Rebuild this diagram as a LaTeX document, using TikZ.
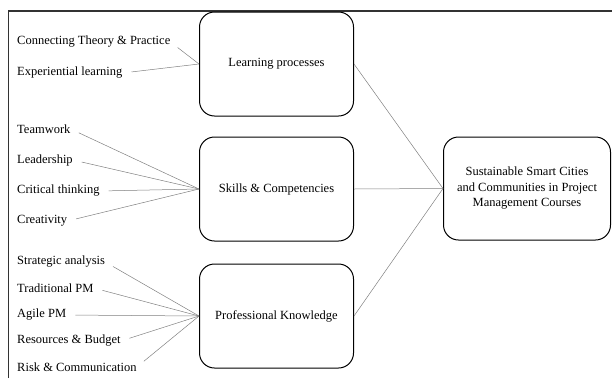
\documentclass[tikz,border=0pt]{standalone}
\usepackage{fontspec}
\setmainfont{Liberation Serif}
\usetikzlibrary{positioning, arrows.meta}
\tikzstyle{process} = [rectangle, rounded corners=15pt, minimum width=154pt, minimum height=104pt, text centered, draw=black, line width=1pt, font=\fontsize{12.5}{15.5}\selectfont]
\tikzstyle{item} = [anchor=west, inner xsep=0pt, font=\fontsize{12.5}{15}\selectfont]
\tikzstyle{link} = [draw=gray, line width=0.5pt]

\begin{document}
\begin{tikzpicture}[x=1pt, y=-1pt]
\useasboundingbox (0,0) rectangle (612,378);
\draw[line width=1.8pt, black!80] (8.5,378) -- (8.5,11) -- (612,11);
% main boxes
\node (lp) [process] at (276.5,64) {Learning processes};
\node (sc) [process] at (276.5,189) {Skills \& Competencies};
\node (pk) [process] at (276.5,316) {Professional Knowledge};
\node (ss) [process, minimum width=167pt, minimum height=103pt, align=center] at (527,188.5) {Sustainable Smart Cities\\and Communities in Project\\Management Courses};
% items
\node (t1) [item] at (17,42) {Connecting Theory \& Practice};
\node (t2) [item] at (17,73) {Experiential learning};
\node (s1) [item] at (17,129) {Teamwork};
\node (s2) [item] at (17,160) {Leadership};
\node (s3) [item] at (17,191) {Critical thinking};
\node (s4) [item] at (17,221) {Creativity};
\node (k1) [item] at (17,262) {Strategic analysis};
\node (k2) [item] at (17,288) {Traditional PM};
\node (k3) [item] at (17,315) {Agile PM};
\node (k4) [item] at (17,341) {Resources \& Budget};
\node (k5) [item] at (17,367) {Risk \& Communication};
% connectors
\foreach \n in {t1,t2} \draw[link, shorten <=9pt] (\n.east) -- (lp.west);
\foreach \n in {s1,s2,s3,s4} \draw[link, shorten <=9pt] (\n.east) -- (sc.west);
\foreach \n in {k1,k2,k3,k4,k5} \draw[link, shorten <=9pt] (\n.east) -- (pk.west);
\foreach \n in {lp,sc,pk} \draw[link] (\n.east) -- (ss.west);
\end{tikzpicture}
\end{document}
